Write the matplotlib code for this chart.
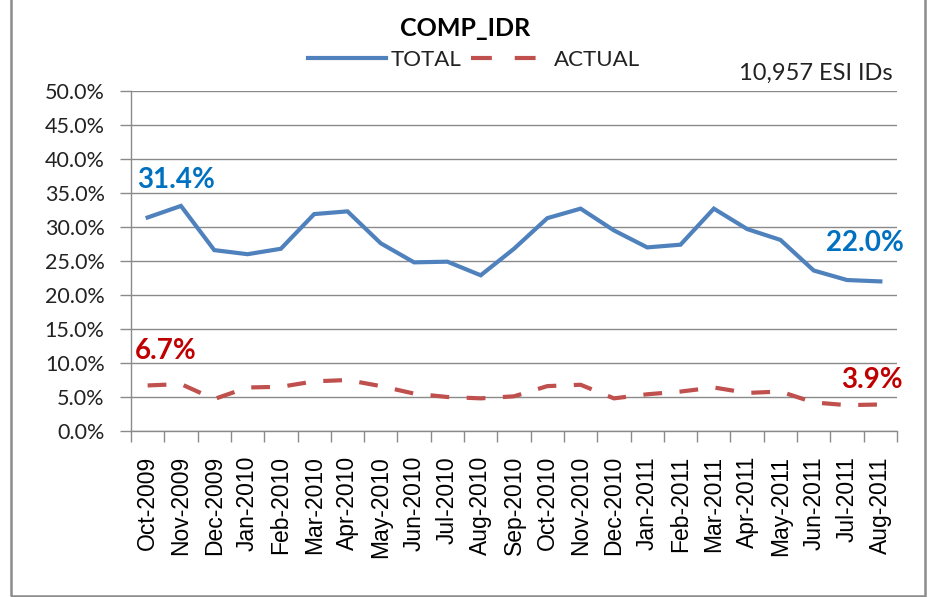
import matplotlib
matplotlib.use("Agg")
import matplotlib.pyplot as plt
from matplotlib.lines import Line2D
from matplotlib.patches import Rectangle
import numpy as np

months = ["Oct-2009", "Nov-2009", "Dec-2009", "Jan-2010", "Feb-2010", "Mar-2010",
          "Apr-2010", "May-2010", "Jun-2010", "Jul-2010", "Aug-2010", "Sep-2010",
          "Oct-2010", "Nov-2010", "Dec-2010", "Jan-2011", "Feb-2011", "Mar-2011",
          "Apr-2011", "May-2011", "Jun-2011", "Jul-2011", "Aug-2011"]
total = [31.4, 33.1, 26.6, 26.0, 26.8, 31.9, 32.3, 27.6, 24.8, 24.9, 22.9, 26.8,
         31.3, 32.7, 29.5, 27.0, 27.4, 32.7, 29.7, 28.1, 23.6, 22.2, 22.0]
actual = [6.7, 6.9, 4.7, 6.4, 6.5, 7.3, 7.5, 6.6, 5.5, 5.0, 4.8, 5.1,
          6.6, 6.8, 4.8, 5.4, 5.8, 6.4, 5.6, 5.8, 4.2, 3.8, 3.9]
yticks = [0, 5, 10, 15, 20, 25, 30, 35, 40, 45, 50]

CAL = ["Lato", "DejaVu Sans"]
ARI = ["Liberation Sans", "DejaVu Sans"]
BLUE = "#4F81BD"
RED = "#C0504D"
GRID = "#8A8A8A"

W, H = 931, 597
fig = plt.figure(figsize=(W / 100, H / 100), dpi=100)
ax = fig.add_axes([131 / W, 1 - 431 / H, (897 - 131) / W, (431 - 91) / H])

x = np.arange(len(months))
ax.plot(x, total, color=BLUE, lw=3.0, solid_joinstyle="miter", label="TOTAL")
ax.plot(x, actual, color=RED, lw=3.0, linestyle=(0, (4.5, 4.2)),
        dash_capstyle="butt", label="ACTUAL")

ax.set_xlim(-0.5, len(months) - 0.5)
ax.set_ylim(0, 50)
ax.set_yticks(yticks)
ax.set_yticklabels([f"{v:.1f}%" for v in yticks], fontfamily=CAL, fontsize=15.5, color="#222222")
ax.yaxis.grid(True, color=GRID, lw=1.0)
ax.set_axisbelow(True)
ax.tick_params(axis="y", length=8, width=1, color=GRID, pad=11, direction="out")

ax.set_xticks(x)
ax.set_xticklabels(months, rotation=90, fontfamily=ARI, fontsize=16.5)
ax.set_xticks(np.arange(-0.5, len(months), 1.0), minor=True)
ax.tick_params(axis="x", which="major", length=0, pad=18)
ax.tick_params(axis="x", which="minor", length=8, width=1, color=GRID, direction="out")

for s in ["top", "right"]:
    ax.spines[s].set_visible(False)
for s in ["left", "bottom"]:
    ax.spines[s].set_color(GRID)
    ax.spines[s].set_linewidth(1.0)

# data labels
lab = dict(textcoords="offset pixels", ha="center", va="center",
           fontfamily=CAL, fontsize=20, fontweight="bold")
ax.annotate(f"{total[0]:.1f}%", (x[0], total[0]), xytext=(28, 37), color="#0070C0", **lab)
ax.annotate(f"{actual[0]:.1f}%", (x[0], actual[0]), xytext=(18, 34), color="#C00000", **lab)
ax.annotate(f"{total[-1]:.1f}%", (x[-1], total[-1]), xytext=(-15, 38), color="#0070C0", **lab)
ax.annotate(f"{actual[-1]:.1f}%", (x[-1], actual[-1]), xytext=(-8, 24), color="#C00000", **lab)

fig.text(465 / W, 1 - 29 / H, "COMP_IDR", ha="center", va="center",
         fontfamily=CAL, fontsize=18, fontweight="bold")
fig.text(893 / W, 1 - 73 / H, "10,957 ESI IDs", ha="right", va="center",
         fontfamily=CAL, fontsize=17, color="#222222")

handles = [Line2D([], [], color=BLUE, lw=3.0),
           Line2D([], [], color=RED, lw=3.0, linestyle=(0, (5, 5.5)), dash_capstyle="butt")]
leg = fig.legend(handles, ["TOTAL", "ACTUAL"], loc="center", bbox_to_anchor=(474 / W, 1 - 60 / H),
                 ncol=2, frameon=False, handlelength=3.5, handletextpad=0.25, columnspacing=0.4,
                 prop={"family": CAL, "size": 16})
for t in leg.get_texts():
    t.set_color("#222222")

fig.patches.append(Rectangle((11 / W, 1 / H), (925 - 11) / W, 1.2, transform=fig.transFigure,
                             fill=False, edgecolor="#8C8C8C", lw=1.8, clip_on=False))

fig.savefig("out.png", dpi=100)
